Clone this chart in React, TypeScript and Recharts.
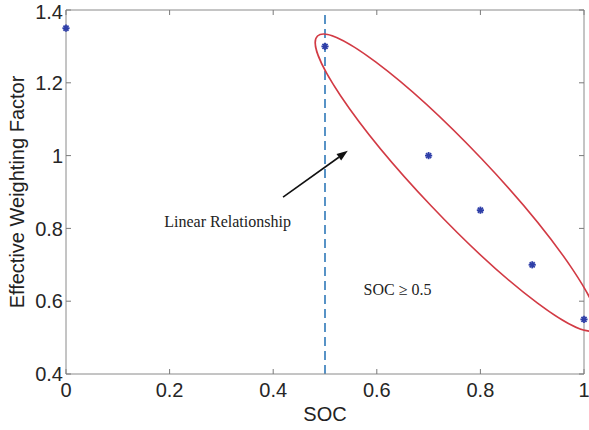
import React from 'react';
import {
  ScatterChart,
  Scatter,
  XAxis,
  YAxis,
  ReferenceLine,
  ReferenceDot,
} from 'recharts';

const SOC = [0, 0.5, 0.7, 0.8, 0.9, 1];
const WEIGHT = [1.35, 1.3, 1.0, 0.85, 0.7, 0.55];
const X_TICKS = [0, 0.2, 0.4, 0.6, 0.8, 1];
const Y_TICKS = [0.4, 0.6, 0.8, 1, 1.2, 1.4];

const points = SOC.map((x, i) => ({ x, y: WEIGHT[i] }));

const FRAME = '#8a8a8a';
const TICK_LINE = { stroke: '#7a7a7a', strokeWidth: 1 };
const SANS = '"Liberation Sans", Arial, sans-serif';
const SERIF = '"Liberation Serif", "Times New Roman", serif';

// matlab style '*' marker
const Star = (props: any) => {
  const { cx, cy } = props;
  const r = 3.6;
  const d = r * 0.707;
  return (
    <g stroke="#2f3fa8" strokeWidth={1.8}>
      <line x1={cx - r} y1={cy} x2={cx + r} y2={cy} />
      <line x1={cx} y1={cy - r} x2={cx} y2={cy + r} />
      <line x1={cx - d} y1={cy - d} x2={cx + d} y2={cy + d} />
      <line x1={cx - d} y1={cy + d} x2={cx + d} y2={cy - d} />
    </g>
  );
};

const Arrow = (props: any) => {
  const { x1, y1, x2, y2 } = props;
  const ang = Math.atan2(y2 - y1, x2 - x1);
  const len = 11;
  const half = 4;
  const bx = x2 - len * Math.cos(ang);
  const by = y2 - len * Math.sin(ang);
  const px = -Math.sin(ang) * half;
  const py = Math.cos(ang) * half;
  return (
    <g>
      <line x1={x1} y1={y1} x2={bx} y2={by} stroke="#111" strokeWidth={1.6} />
      <polygon points={`${x2},${y2} ${bx + px},${by + py} ${bx - px},${by - py}`} fill="#111" />
    </g>
  );
};

const Ellipse = (props: any) => {
  const { cx, cy } = props;
  return (
    <ellipse
      cx={cx}
      cy={cy}
      rx={202}
      ry={34.5}
      transform={`rotate(46.5 ${cx} ${cy})`}
      fill="none"
      stroke="#d23a44"
      strokeWidth={1.6}
    />
  );
};

const note = (text: string) => (props: any) => (
  <text
    x={props.cx}
    y={props.cy}
    textAnchor="middle"
    dominantBaseline="central"
    fontFamily={SERIF}
    fontSize={16}
    fill="#222"
  >
    {text}
  </text>
);

const blank = () => '';
const nothing = () => <g />;

export default function App() {
  return (
    <div style={{ position: 'absolute', left: 0, top: 0, background: '#fff' }}>
      <ScatterChart width={589} height={430} margin={{ top: 10, right: 5, left: 0, bottom: 0 }}>
        <XAxis
          dataKey="x"
          type="number"
          domain={[0, 1]}
          ticks={X_TICKS}
          height={56}
          stroke={FRAME}
          tickLine={TICK_LINE}
          tickSize={-5}
          tickMargin={14}
          tick={{ fontSize: 20, fontFamily: SANS, fill: '#262626' }}
          label={{ value: 'SOC', position: 'insideBottom', offset: 9, fontSize: 20, fontFamily: SANS, fill: '#222' }}
        />
        <YAxis
          dataKey="y"
          type="number"
          domain={[0.4, 1.4]}
          ticks={Y_TICKS}
          width={66}
          stroke={FRAME}
          tickLine={TICK_LINE}
          tickSize={-5}
          tickMargin={8}
          tickFormatter={(v: number) => String(v)}
          tick={{ fontSize: 20, fontFamily: SANS, fill: '#262626' }}
          label={{
            value: 'Effective Weighting Factor',
            angle: -90,
            position: 'insideLeft',
            offset: 17,
            fontSize: 20,
            fontFamily: SANS,
            fill: '#222',
            style: { textAnchor: 'middle' },
          }}
        />
        <XAxis
          xAxisId="top"
          orientation="top"
          dataKey="x"
          type="number"
          domain={[0, 1]}
          ticks={X_TICKS}
          mirror
          tickFormatter={blank}
          tickLine={TICK_LINE}
          tickSize={5}
          stroke={FRAME}
        />
        <YAxis
          yAxisId="right"
          orientation="right"
          dataKey="y"
          type="number"
          domain={[0.4, 1.4]}
          ticks={Y_TICKS}
          mirror
          tickFormatter={blank}
          tickLine={TICK_LINE}
          tickSize={5}
          stroke={FRAME}
        />
        <ReferenceLine x={0.5} stroke="#2f78b8" strokeWidth={1.6} strokeDasharray="9 5" />
        <ReferenceDot x={0.754} y={0.926} r={0} shape={Ellipse} ifOverflow="visible" />
        <ReferenceLine
          segment={[
            { x: 0.419, y: 0.886 },
            { x: 0.544, y: 1.013 },
          ]}
          shape={Arrow}
        />
        <ReferenceDot x={0.312} y={0.818} r={0} shape={note('Linear Relationship')} />
        <ReferenceDot x={0.64} y={0.631} r={0} shape={note('SOC \u2265 0.5')} />
        {/* invisible copy so the top / right frame axes get ticks */}
        <Scatter data={points} xAxisId="top" yAxisId="right" shape={nothing} isAnimationActive={false} />
        <Scatter data={points} shape={Star} isAnimationActive={false} />
      </ScatterChart>
    </div>
  );
}
